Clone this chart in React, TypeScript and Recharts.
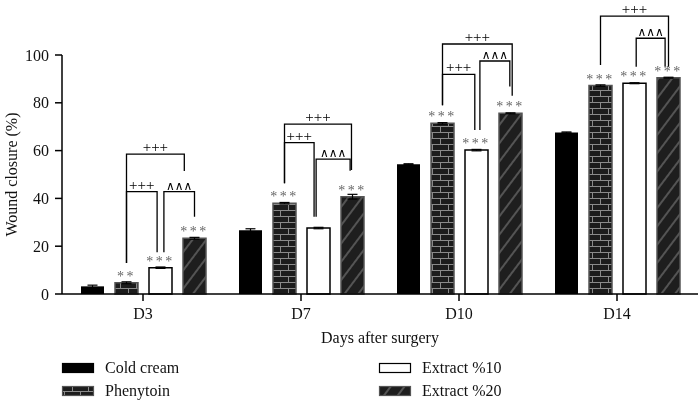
import React from 'react';
import { BarChart, Bar, XAxis, YAxis, ErrorBar, LabelList, Legend } from 'recharts';

const FONT = "'Liberation Serif', 'DejaVu Serif', serif";

// Wound closure (%)
const days = ['D3', 'D7', 'D10', 'D14'];
const coldCream = [3.2, 26.7, 54.3, 67.6];
const phenytoin = [4.7, 38.0, 71.4, 87.2];
const extract10 = [11.0, 27.6, 60.2, 88.2];
const extract20 = [23.3, 40.7, 75.6, 90.5];

const coldCreamErr = [0.5, 0.6, 0.2, 0.2];
const phenytoinErr = [0.4, 0.3, 0.3, 0.3];
const extract10Err = [0.3, 0.3, 0.3, 0.2];
const extract20Err = [0.4, 1.0, 0.2, 0.2];

// significance marks vs cold cream
const phenytoinStars = ['**', '***', '***', '***'];
const extract10Stars = ['***', '', '***', '***'];
const extract20Stars = ['***', '***', '***', '***'];

const yTicks = [0, 20, 40, 60, 80, 100];
const seriesNames = ['Cold cream', 'Phenytoin', 'Extract %10', 'Extract %20'];

// comparison brackets: day index, text, bar slots (0..3), levels in %
const brackets = [
  { day: 0, text: '+++', from: 1, to: 2.7, top: 58.5, left: 13, right: 51.5 },
  { day: 0, text: '+++', from: 1, to: 1.9, top: 42.8, left: 13, right: 17.5 },
  { day: 0, text: '∧∧∧', from: 2.1, to: 3, top: 42.8, left: 17.5, right: 32.3 },
  { day: 1, text: '+++', from: 1, to: 2.97, top: 71.1, left: 46.3, right: 51.9 },
  { day: 1, text: '+++', from: 1, to: 1.87, top: 63.3, left: 46.3, right: 32.3 },
  { day: 1, text: '∧∧∧', from: 1.93, to: 2.93, top: 56.4, left: 32.3, right: 51.6 },
  { day: 2, text: '+++', from: 1, to: 3.05, top: 104.6, left: 79, right: 83 },
  { day: 2, text: '+++', from: 1, to: 1.95, top: 91.9, left: 79, right: 68.6 },
  { day: 2, text: '∧∧∧', from: 2.1, to: 2.98, top: 97.5, left: 68.6, right: 86.8 },
  { day: 3, text: '+++', from: 1, to: 3.0, top: 116.3, left: 95.8, right: 95.1 },
  { day: 3, text: '∧∧∧', from: 2.05, to: 2.9, top: 107, left: 95.1, right: 95.1 },
];

const data = days.map((day, i) => ({
  day,
  cold: coldCream[i],
  phen: phenytoin[i],
  ext10: extract10[i],
  ext20: extract20[i],
  coldErr: coldCreamErr[i],
  phenErr: phenytoinErr[i],
  ext10Err: extract10Err[i],
  ext20Err: extract20Err[i],
}));

const BAR_SIZE = 23;
const BAR_GAP = 11;

const Patterns = ({ prefix }: { prefix: string }) => (
  <defs>
    <pattern id={`${prefix}-brick`} patternUnits="userSpaceOnUse" width={16} height={12}>
      <rect width={16} height={12} fill="#1c1c1c" />
      <path d="M0 0.5H16M0 6.5H16M0.5 0V6M8.5 6V12" stroke="#8a8a8a" strokeWidth={1} />
    </pattern>
    <pattern id={`${prefix}-diag`} patternUnits="userSpaceOnUse" width={11} height={11} patternTransform="rotate(37)">
      <rect width={11} height={11} fill="#1e1e1e" />
      <path d="M1 0V11" stroke="#8a8a8a" strokeWidth={1} />
    </pattern>
  </defs>
);

const starLabel = (stars: string[]) => (props: any) => {
  const { viewBox, index } = props;
  const s = stars[index];
  if (!s || !viewBox) return null;
  return (
    <text
      x={viewBox.x + viewBox.width / 2}
      y={viewBox.y - 2}
      textAnchor="middle"
      fontSize={14}
      letterSpacing={2.5}
      fill="#666"
      fontFamily={FONT}
    >
      {s}
    </text>
  );
};

// draws the brackets for one day group, using the last bar's own geometry for scale
const BracketLabel = (props: any) => {
  const { viewBox, index, value } = props;
  if (!viewBox || !value) return null;
  const { x, y, width, height } = viewBox;
  const base = y + height;
  const unit = height / value;
  const pitch = BAR_SIZE + BAR_GAP;
  const sx = (s: number) => x + width / 2 - (3 - s) * pitch;
  const sy = (v: number) => base - v * unit;
  return (
    <g>
      {brackets
        .filter((b) => b.day === index)
        .map((b, k) => (
          <g key={k}>
            <path
              d={`M${sx(b.from)} ${sy(b.left)}V${sy(b.top)}H${sx(b.to)}V${sy(b.right)}`}
              fill="none"
              stroke="#000"
              strokeWidth={1.3}
            />
            <text
              x={(sx(b.from) + sx(b.to)) / 2}
              y={sy(b.top) - 2}
              textAnchor="middle"
              fontSize={b.text === '+++' ? 15 : 12}
              fill="#000"
              fontFamily={FONT}
            >
              {b.text}
            </text>
          </g>
        ))}
    </g>
  );
};

const YLabel = (props: any) => {
  const vb = props.viewBox;
  const cy = vb.y + vb.height / 2;
  return (
    <text x={17} y={cy} transform={`rotate(-90, 17, ${cy})`} textAnchor="middle" fontSize={16} fill="#111" fontFamily={FONT}>
      Wound closure (%)
    </text>
  );
};

const XLabel = (props: any) => {
  const vb = props.viewBox;
  return (
    <text x={vb.x + vb.width / 2} y={vb.y + 49} textAnchor="middle" fontSize={16} fill="#111" fontFamily={FONT}>
      Days after surgery
    </text>
  );
};

const swatchFills = ['#000', 'url(#lg-brick)', '#fff', 'url(#lg-diag)'];
const swatchStrokes = ['#000', '#555', '#000', '#555'];

const LegendContent = () => {
  const cols = [62, 379];
  const rows = [8, 31];
  return (
    <svg width={698} height={45}>
      <Patterns prefix="lg" />
      {seriesNames.map((name, i) => {
        const cx = cols[Math.floor(i / 2)];
        const ry = rows[i % 2];
        return (
          <g key={name}>
            <rect x={cx + 0.5} y={ry + 0.5} width={31} height={9} fill={swatchFills[i]} stroke={swatchStrokes[i]} strokeWidth={1.2} />
            <text x={cx + 43} y={ry + 10} fontSize={16} fill="#111" fontFamily={FONT}>
              {name}
            </text>
          </g>
        );
      })}
    </svg>
  );
};

export default function App() {
  return (
    <div style={{ position: 'absolute', left: 0, top: 0, width: 698, height: 400, willChange: 'transform' }}>
      <BarChart
        width={698}
        height={400}
        data={data}
        margin={{ top: 55, right: 0, bottom: 0, left: 0 }}
        barSize={BAR_SIZE}
        barGap={BAR_GAP}
        style={{ fontFamily: FONT }}
      >
        <Patterns prefix="ch" />
        <XAxis
          dataKey="day"
          height={106}
          padding={{ left: 2, right: 2 }}
          tickSize={7}
          tickMargin={7}
          axisLine={{ stroke: '#000', strokeWidth: 1.5 }}
          tickLine={{ stroke: '#000', strokeWidth: 1.5 }}
          tick={{ fontSize: 16, fill: '#111', fontFamily: FONT }}
          label={{ content: XLabel }}
        />
        <YAxis
          width={62}
          domain={[0, 100]}
          ticks={yTicks}
          interval={0}
          tickSize={7}
          tickMargin={6}
          axisLine={{ stroke: '#000', strokeWidth: 1.5 }}
          tickLine={{ stroke: '#000', strokeWidth: 1.5 }}
          tick={{ fontSize: 16, fill: '#111', fontFamily: FONT }}
          label={{ content: YLabel }}
        />
        <Bar dataKey="cold" name={seriesNames[0]} fill="#000" isAnimationActive={false}>
          <ErrorBar dataKey="coldErr" width={5} stroke="#000" strokeWidth={1.2} direction="y" />
        </Bar>
        <Bar dataKey="phen" name={seriesNames[1]} fill="url(#ch-brick)" stroke="#555" strokeWidth={1.5} isAnimationActive={false}>
          <ErrorBar dataKey="phenErr" width={5} stroke="#000" strokeWidth={1.2} direction="y" />
          <LabelList dataKey="phen" content={starLabel(phenytoinStars)} />
        </Bar>
        <Bar dataKey="ext10" name={seriesNames[2]} fill="#fff" stroke="#000" strokeWidth={1.5} isAnimationActive={false}>
          <ErrorBar dataKey="ext10Err" width={5} stroke="#000" strokeWidth={1.2} direction="y" />
          <LabelList dataKey="ext10" content={starLabel(extract10Stars)} />
        </Bar>
        <Bar dataKey="ext20" name={seriesNames[3]} fill="url(#ch-diag)" stroke="#555" strokeWidth={1.5} isAnimationActive={false}>
          <ErrorBar dataKey="ext20Err" width={5} stroke="#000" strokeWidth={1.2} direction="y" />
          <LabelList dataKey="ext20" content={starLabel(extract20Stars)} />
          <LabelList dataKey="ext20" content={BracketLabel} />
        </Bar>
        <Legend
          layout="horizontal"
          verticalAlign="middle"
          align="center"
          content={LegendContent}
          wrapperStyle={{ position: 'absolute', top: 355, left: 0, width: 698, height: 45 }}
        />
      </BarChart>
    </div>
  );
}
